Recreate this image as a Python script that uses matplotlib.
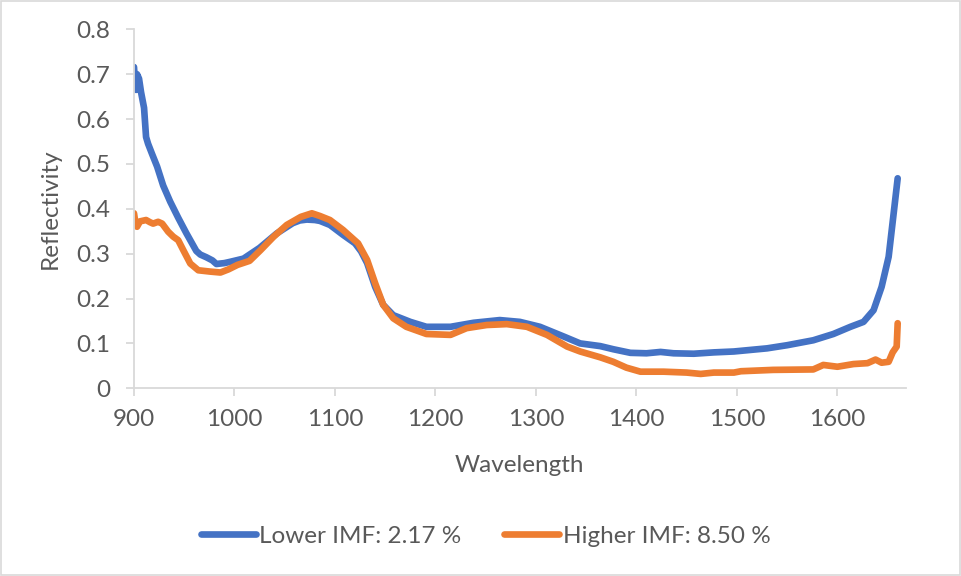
import matplotlib
matplotlib.use("Agg")
import matplotlib.pyplot as plt
from matplotlib.patches import Rectangle

# Lower IMF sample (blue)
wl_lower = [900, 901, 902, 903, 905, 907, 910, 912, 914, 918, 923, 929, 936, 944,
            952, 962, 966, 972, 978, 982, 990, 996, 1009, 1025, 1042, 1058, 1065,
            1072, 1080, 1085, 1095, 1108, 1120, 1126, 1132, 1140, 1148, 1158, 1175,
            1191, 1215, 1238, 1264, 1284, 1304, 1328, 1344, 1364, 1377, 1394, 1410,
            1424, 1437, 1457, 1477, 1497, 1530, 1550, 1576, 1596, 1613, 1626, 1636,
            1644, 1651, 1656, 1660]
refl_lower = [0.716, 0.68, 0.665, 0.70, 0.69, 0.66, 0.625, 0.56, 0.545, 0.522, 0.494,
              0.452, 0.416, 0.380, 0.346, 0.306, 0.298, 0.292, 0.285, 0.277, 0.279,
              0.282, 0.289, 0.313, 0.345, 0.368, 0.374, 0.376, 0.375, 0.373, 0.364,
              0.342, 0.323, 0.305, 0.279, 0.226, 0.186, 0.163, 0.148, 0.137, 0.137,
              0.146, 0.152, 0.148, 0.137, 0.115, 0.100, 0.094, 0.087, 0.079, 0.078,
              0.081, 0.078, 0.077, 0.080, 0.082, 0.089, 0.096, 0.107, 0.121, 0.137,
              0.148, 0.174, 0.226, 0.293, 0.39, 0.468]

# Higher IMF sample (orange)
wl_higher = [900, 901, 903, 906, 912, 916, 919, 924, 928, 934, 939, 944, 949, 956,
             964, 976, 986, 994, 1003, 1015, 1026, 1039, 1052, 1066, 1077, 1085, 1095,
             1108, 1123, 1132, 1140, 1148, 1158, 1171, 1191, 1215, 1231, 1251, 1271,
             1291, 1311, 1331, 1344, 1364, 1377, 1390, 1404, 1427, 1450, 1464, 1477,
             1497, 1504, 1536, 1576, 1586, 1600, 1616, 1630, 1638, 1644, 1651, 1655,
             1659, 1660]
refl_higher = [0.39, 0.375, 0.36, 0.372, 0.375, 0.370, 0.367, 0.371, 0.367, 0.349,
               0.338, 0.330, 0.308, 0.278, 0.263, 0.260, 0.258, 0.265, 0.275, 0.284,
               0.308, 0.338, 0.364, 0.382, 0.390, 0.384, 0.375, 0.353, 0.323, 0.286,
               0.234, 0.186, 0.156, 0.137, 0.121, 0.119, 0.134, 0.141, 0.143, 0.137,
               0.119, 0.093, 0.082, 0.069, 0.059, 0.046, 0.037, 0.037, 0.035, 0.032,
               0.035, 0.035, 0.038, 0.041, 0.042, 0.052, 0.048, 0.054, 0.056, 0.064,
               0.057, 0.059, 0.080, 0.093, 0.145]

x_ticks = [900, 1000, 1100, 1200, 1300, 1400, 1500, 1600]
y_ticks = [0, 0.1, 0.2, 0.3, 0.4, 0.5, 0.6, 0.7, 0.8]

text_col = "#595959"
axis_col = "#d9d9d9"
fs = 17.5
plt.rcParams["font.family"] = ["Lato", "DejaVu Sans"]

fig = plt.figure(figsize=(9.62, 5.76), dpi=100)
ax = fig.add_axes([0.1393, 0.3259, 0.8022, 0.6232])

ax.plot(wl_lower, refl_lower, color="#4472C4", lw=4.8, solid_joinstyle="round",
        solid_capstyle="round", label="Lower IMF: 2.17 %")
ax.plot(wl_higher, refl_higher, color="#ED7D31", lw=4.8, solid_joinstyle="round",
        solid_capstyle="round", label="Higher IMF: 8.50 %")

ax.set_xlim(900, 1668)
ax.set_ylim(0, 0.8)
ax.set_xticks(x_ticks)
ax.set_yticks(y_ticks)
ax.set_yticklabels(["0" if v == 0 else f"{v:.1f}" for v in y_ticks])

for s in ["top", "right"]:
    ax.spines[s].set_visible(False)
for s in ["left", "bottom"]:
    ax.spines[s].set_color(axis_col)
    ax.spines[s].set_linewidth(1.3)
ax.tick_params(colors=axis_col, labelcolor=text_col, labelsize=fs, length=6, width=1.3)
ax.tick_params(axis="x", pad=9)
ax.tick_params(axis="y", pad=11)

ax.set_xlabel("Wavelength", fontsize=fs, color=text_col, labelpad=18)
ax.set_ylabel("Reflectivity", fontsize=fs, color=text_col, labelpad=11)

fig.legend(loc="center", bbox_to_anchor=(0.5047, 0.0694), ncol=2, frameon=False,
           fontsize=fs, labelcolor=text_col, handlelength=2.26, handletextpad=0.16,
           columnspacing=1.73)

fig.patches.append(Rectangle((0.001, 0.002), 0.997, 0.996, transform=fig.transFigure,
                             fill=False, edgecolor=axis_col, lw=1.2))

fig.savefig("out.png", dpi=100)
